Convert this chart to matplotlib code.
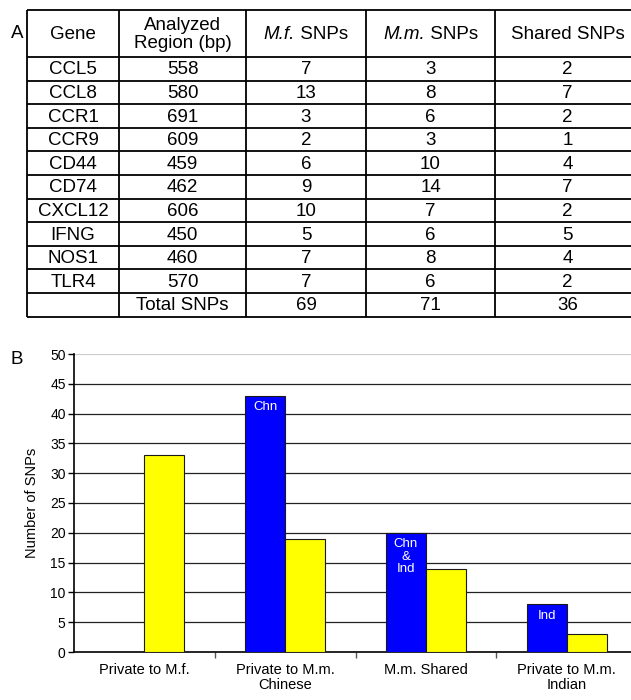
import matplotlib
matplotlib.use('Agg')
import matplotlib.pyplot as plt
import numpy as np

plt.rcParams['font.family'] = ['Liberation Sans', 'DejaVu Sans']

# table A
genes = ['CCL5', 'CCL8', 'CCR1', 'CCR9', 'CD44', 'CD74', 'CXCL12', 'IFNG', 'NOS1', 'TLR4']
region_bp = [558, 580, 691, 609, 459, 462, 606, 450, 460, 570]
mf_snps = [7, 13, 3, 2, 6, 9, 10, 5, 7, 7]
mm_snps = [3, 8, 6, 3, 10, 14, 7, 6, 8, 6]
shared_snps = [2, 7, 2, 1, 4, 7, 2, 5, 4, 2]
headers = ['Gene', 'Analyzed\nRegion (bp)', ('M.f.', ' SNPs'), ('M.m.', ' SNPs'), 'Shared SNPs']

# chart B
categories = ['Private to M.f.', 'Private to M.m.\nChinese', 'M.m. Shared', 'Private to M.m.\nIndian']
blue_vals = [0, 43, 20, 8]
yellow_vals = [33, 19, 14, 3]
bar_notes = ['', 'Chn', 'Chn\n&\nInd', 'Ind']

W, H = 631, 700
fig = plt.figure(figsize=(W / 100, H / 100), dpi=100)

# ---- table drawn in pixel coords ----
tab = fig.add_axes([0, 0, 1, 1])
tab.set_xlim(0, W)
tab.set_ylim(H, 0)
tab.axis('off')

col_x = [27, 119, 246, 366, 495, 640]
top, head_bot, row_h = 10, 57, 23.6
nrows = len(genes) + 1
bottom = head_bot + row_h * nrows
lw = 1.3
for x in col_x:
    tab.plot([x, x], [top, bottom], color='black', lw=lw, solid_capstyle='butt')
for y in [top, head_bot] + [head_bot + row_h * (i + 1) for i in range(nrows)]:
    tab.plot([col_x[0], col_x[-1]], [y, y], color='black', lw=lw, solid_capstyle='butt')

fs_tab = 13.5
centers = [(col_x[i] + col_x[i + 1]) / 2 for i in range(5)]
ymid = (top + head_bot) / 2 + 1
split = []
for i, h in enumerate(headers):
    if isinstance(h, tuple):
        t1 = tab.text(centers[i], ymid, h[0], ha='right', va='center', fontsize=fs_tab, style='italic')
        t2 = tab.text(centers[i], ymid, h[1], ha='left', va='center', fontsize=fs_tab)
        split.append((i, t1, t2))
    else:
        tab.text(centers[i], ymid, h, ha='center', va='center', fontsize=fs_tab, linespacing=1.0)

# center the italic + regular header pairs
fig.canvas.draw()
r = fig.canvas.get_renderer()
for i, t1, t2 in split:
    w1 = t1.get_window_extent(r).width
    w2 = t2.get_window_extent(r).width
    xs = centers[i] - (w1 + w2) / 2 + w1
    t1.set_x(xs)
    t2.set_x(xs)

rows = [[g, rb, a, b, c] for g, rb, a, b, c in zip(genes, region_bp, mf_snps, mm_snps, shared_snps)]
rows.append(['', 'Total SNPs', sum(mf_snps), sum(mm_snps), sum(shared_snps)])
for j, row in enumerate(rows):
    yc = head_bot + row_h * (j + 0.5) + 1
    for i, v in enumerate(row):
        tab.text(centers[i], yc, str(v), ha='center', va='center', fontsize=fs_tab)

tab.text(17, 34, 'A', ha='center', va='center', fontsize=13.5)
tab.text(17, 360, 'B', ha='center', va='center', fontsize=13.5)

# ---- bar chart ----
ax = fig.add_axes([74 / W, (H - 652) / H, 563 / W, 298 / H])
x = np.arange(len(categories)) + 0.5
w = 0.285
ax.bar(x - w, blue_vals, w, align='edge', color='#0000FF', edgecolor='#1a1a1a', lw=0.8, zorder=3)
ax.bar(x, yellow_vals, w, align='edge', color='#FFFF00', edgecolor='#1a1a1a', lw=0.8, zorder=3)

for xi, v, note in zip(x, blue_vals, bar_notes):
    if note:
        ax.annotate(note, (xi - w / 2, v), xytext=(0, -4), textcoords='offset points',
                    ha='center', va='top', color='white', fontsize=9.5, linespacing=1.05, zorder=4)

ax.set_xlim(0, 4)
ax.set_ylim(0, 50)
ax.set_yticks(np.arange(0, 51, 5))
for yv in np.arange(5, 50, 5):
    ax.axhline(yv, color='#222222', lw=0.9, zorder=1)
ax.axhline(50, color='#cccccc', lw=0.9, zorder=1)

ax.set_xticks([1, 2, 3])
ax.set_xticklabels([])
ax.set_xticks(x, minor=True)
ax.set_xticklabels(categories, minor=True, fontsize=10.5, linespacing=1.05)
ax.tick_params(axis='x', which='minor', length=0, pad=8)
ax.tick_params(axis='x', which='major', length=4, color='#555555', width=1)
ax.tick_params(axis='y', length=4, width=1, labelsize=10, pad=2)
ax.set_ylabel('Number of SNPs', fontsize=10.5, labelpad=8)

for s in ['top', 'right']:
    ax.spines[s].set_visible(False)
ax.spines['left'].set_linewidth(1.2)
ax.spines['bottom'].set_linewidth(1.2)

fig.savefig('out.png', dpi=100)
